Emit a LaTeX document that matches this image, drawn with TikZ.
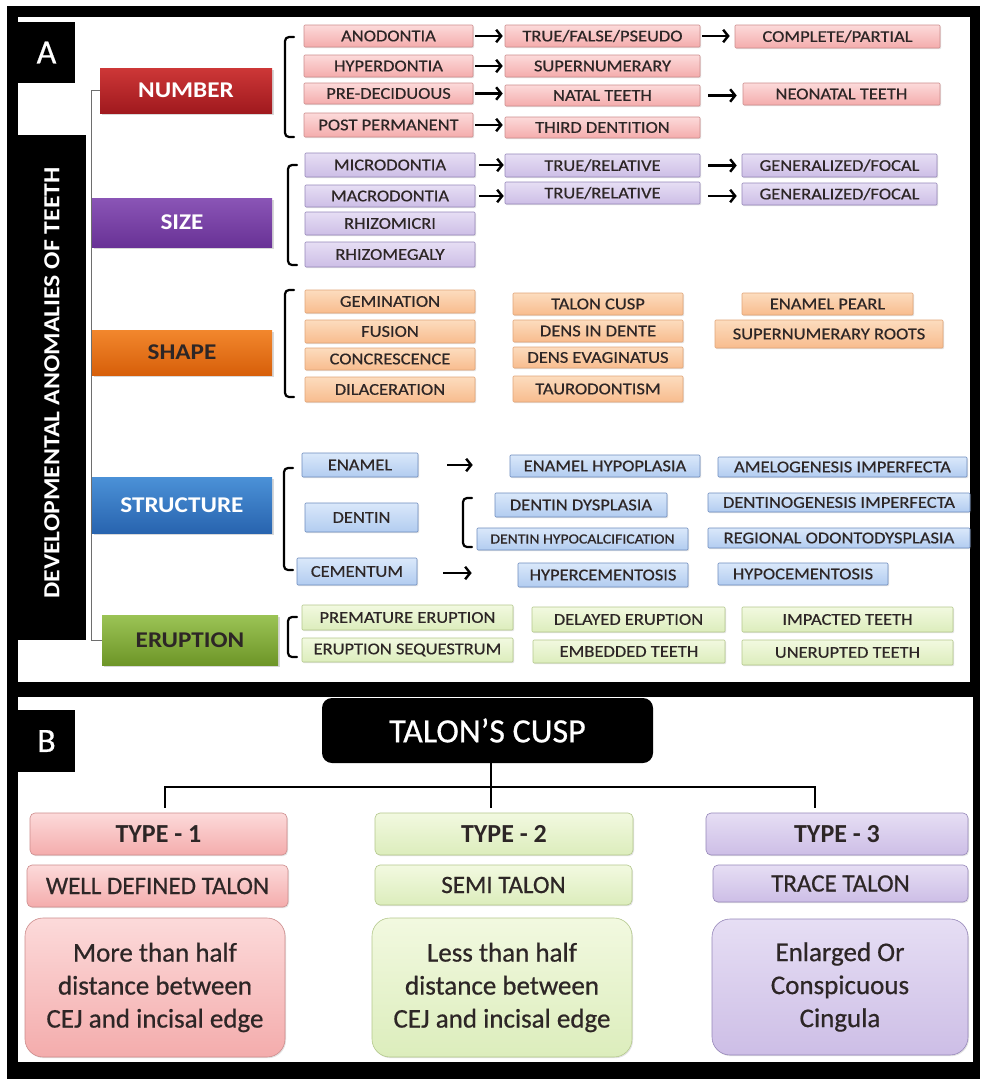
\documentclass[tikz,border=0pt]{standalone}
\usepackage{fontspec}
\setmainfont{Carlito}
\newfontfamily\sfont[FakeStretch=1.12,FakeBold=0.5]{Carlito}
\newfontfamily\catfont[FakeStretch=1.12]{Carlito}
\newfontfamily\bigfont[FakeBold=0.6]{Carlito}
\usetikzlibrary{arrows.meta,shadows}
% category colours
\definecolor{redT}{RGB}{205,55,55}\definecolor{redB}{RGB}{160,25,30}
\definecolor{purT}{RGB}{138,85,182}\definecolor{purB}{RGB}{105,50,150}
\definecolor{oraT}{RGB}{242,135,45}\definecolor{oraB}{RGB}{215,95,10}
\definecolor{bluT}{RGB}{75,145,215}\definecolor{bluB}{RGB}{40,100,175}
\definecolor{greT}{RGB}{155,195,85}\definecolor{greB}{RGB}{110,150,40}
% light colours
\definecolor{pinkT}{RGB}{252,218,218}\definecolor{pinkB}{RGB}{244,172,172}\definecolor{pinkD}{RGB}{205,140,140}
\definecolor{lavT}{RGB}{230,222,244}\definecolor{lavB}{RGB}{205,190,230}\definecolor{lavD}{RGB}{150,135,185}
\definecolor{lorT}{RGB}{252,220,190}\definecolor{lorB}{RGB}{248,188,142}\definecolor{lorD}{RGB}{225,165,120}
\definecolor{lblT}{RGB}{218,232,250}\definecolor{lblB}{RGB}{178,204,240}\definecolor{lblD}{RGB}{110,140,190}
\definecolor{lgrT}{RGB}{242,249,224}\definecolor{lgrB}{RGB}{220,237,188}\definecolor{lgrD}{RGB}{180,200,140}
\definecolor{txt}{RGB}{45,38,38}
\definecolor{treeline}{RGB}{110,110,110}
\tikzset{
  sbox/.style={rectangle, rounded corners=1pt, line width=0.6pt, draw=#1D,
    top color=#1T, bottom color=#1B, inner sep=0pt, text=txt,
    font=\sfont\fontsize{16.5}{18}\selectfont,
    drop shadow={opacity=0.22, shadow xshift=1pt, shadow yshift=-1.2pt}},
  cat/.style={rectangle, inner sep=0pt, top color=#1T, bottom color=#1B,
    font=\catfont\bfseries\fontsize{22.5}{24}\selectfont,
    drop shadow={opacity=0.3, shadow xshift=1.5pt, shadow yshift=-1.5pt}},
  tbox/.style={sbox=#1, rounded corners=5pt, font=\bfseries\fontsize{26}{28}\selectfont},
  wbox/.style={sbox=#1, rounded corners=5pt, font=\bigfont\fontsize{25}{27}\selectfont},
  dbox/.style={sbox=#1, rounded corners=18pt, align=center,
    font=\bigfont\fontsize{27}{33}\selectfont},
  brace/.style={line width=2.2pt, line cap=round, rounded corners=4pt, black},
  arr/.style={line width=2.4pt, -{Straight Barb[length=5pt,width=12.5pt]}},
  tree/.style={line width=0.9pt, treeline},
  bline/.style={line width=2.2pt, black},
  blk/.style={rectangle, fill=black, inner sep=0pt, text=white}
}
\newcommand\bx[7]{\node[#6, minimum width={(#4-#2)*1pt}, minimum height={(#5-#3)*1pt}] (#1) at ({(#2+#4)/2},{(#3+#5)/2}) {#7};}
\newcommand\brk[4]{\draw[brace] ({#1+9},#2) -- (#1,#2) -- (#1,#3) -- ({#1+9},#3);}
\begin{document}
\begin{tikzpicture}[x=1pt,y=-1pt]
\useasboundingbox (0,0) rectangle (982,1079);
\fill[white] (0,0) rectangle (982,1079);
\fill[black] (7,6) rectangle (980,1079);
\fill[white] (18,17) rectangle (970,682);
\fill[white] (18,697) rectangle (973,1062);
% panel labels
\bx{labA}{18}{22}{75}{83}{blk, font=\bigfont\fontsize{34}{36}\selectfont}{A}
\bx{col}{18}{135}{86}{640}{blk}{}
\node[rotate=90, text=white, font=\catfont\bfseries\fontsize{23}{25}\selectfont] (title) at (52,383) {DEVELOPMENTAL ANOMALIES OF TEETH};
% categories
\bx{num}{100}{68}{272}{113}{cat=red, text=white}{NUMBER}
\bx{size}{92}{198}{272}{247}{cat=pur, text=white}{SIZE}
\bx{shape}{92}{330}{272}{375}{cat=ora, text=txt}{SHAPE}
\bx{struct}{92}{477}{272}{533}{cat=blu, text=white}{STRUCTURE}
\bx{erup}{102}{615}{278}{665}{cat=gre, text=txt}{ERUPTION}
\draw[tree] (num.west) -- ++(-8pt,0) |- (erup.west);
% NUMBER
\bx{anod}{304}{25}{473}{47}{sbox=pink}{ANODONTIA}
\bx{hyper}{304}{55}{473}{77}{sbox=pink}{HYPERDONTIA}
\bx{prede}{304}{83}{473}{104}{sbox=pink}{PRE-DECIDUOUS}
\bx{postp}{304}{113}{473}{137}{sbox=pink}{POST PERMANENT}
\bx{tfp}{505}{25}{700}{47}{sbox=pink}{TRUE/FALSE/PSEUDO}
\bx{supn}{505}{55}{700}{77}{sbox=pink}{SUPERNUMERARY}
\bx{natal}{505}{85}{700}{106}{sbox=pink}{NATAL TEETH}
\bx{third}{505}{117}{700}{138}{sbox=pink}{THIRD DENTITION}
\bx{comp}{735}{25}{940}{48}{sbox=pink}{COMPLETE/PARTIAL}
\bx{neon}{743}{83}{940}{105}{sbox=pink}{NEONATAL TEETH}
\brk{285}{37}{137}
\draw[brace] (num.east) -- ++(13pt,0);
\draw[arr, shorten <=2pt, shorten >=2pt] (anod.east) -- (anod.east -| tfp.west);
\draw[arr, shorten <=2pt, shorten >=2pt] (hyper.east) -- (hyper.east -| supn.west);
\draw[arr, shorten <=2pt, shorten >=2pt] (prede.east) -- (prede.east -| natal.west);
\draw[arr, shorten <=2pt, shorten >=2pt] (postp.east) -- (postp.east -| third.west);
\draw[arr, shorten <=2pt, shorten >=5pt] (tfp.east) -- (tfp.east -| comp.west);
\draw[arr, shorten <=8pt, shorten >=6pt] (natal.east) -- (natal.east -| neon.west);
% SIZE
\bx{micro}{305}{153}{475}{177}{sbox=lav}{MICRODONTIA}
\bx{macro}{305}{185}{475}{207}{sbox=lav}{MACRODONTIA}
\bx{rmicri}{305}{212}{475}{235}{sbox=lav}{RHIZOMICRI}
\bx{rmega}{305}{242}{475}{267}{sbox=lav}{RHIZOMEGALY}
\bx{tr1}{505}{154}{700}{177}{sbox=lav}{TRUE/RELATIVE}
\bx{tr2}{505}{182}{700}{204}{sbox=lav}{TRUE/RELATIVE}
\bx{gen1}{742}{154}{937}{177}{sbox=lav}{GENERALIZED/FOCAL}
\bx{gen2}{742}{183}{937}{205}{sbox=lav}{GENERALIZED/FOCAL}
\brk{288}{165}{265}
\draw[brace] ([yshift=4pt]size.east) -- ++(16pt,0);
\draw[arr, shorten <=4pt, shorten >=1pt] (micro.east) -- (micro.east -| tr1.west);
\draw[arr, shorten <=4pt, shorten >=1pt] (macro.east) -- (macro.east -| tr2.west);
\draw[arr, shorten <=8pt, shorten >=5pt] (tr1.east) -- (tr1.east -| gen1.west);
\draw[arr, shorten <=8pt, shorten >=5pt] ([yshift=-3pt]tr2.east) -- ([yshift=-3pt]tr2.east -| gen2.west);
% SHAPE
\bx{gem}{305}{290}{475}{313}{sbox=lor}{GEMINATION}
\bx{fus}{305}{320}{475}{343}{sbox=lor}{FUSION}
\bx{conc}{305}{348}{475}{370}{sbox=lor}{CONCRESCENCE}
\bx{dilac}{305}{377}{475}{402}{sbox=lor}{DILACERATION}
\bx{talc}{513}{293}{683}{315}{sbox=lor}{TALON CUSP}
\bx{dind}{513}{320}{683}{342}{sbox=lor}{DENS IN DENTE}
\bx{devag}{513}{347}{683}{368}{sbox=lor}{DENS EVAGINATUS}
\bx{taur}{513}{376}{683}{402}{sbox=lor}{TAURODONTISM}
\bx{epearl}{742}{293}{913}{315}{sbox=lor}{ENAMEL PEARL}
\bx{sroots}{715}{320}{943}{348}{sbox=lor}{SUPERNUMERARY ROOTS}
\brk{285}{290}{397}
\draw[brace] ([yshift=4pt]shape.east) -- ++(13pt,0);
% STRUCTURE
\bx{enam}{302}{453}{418}{477}{sbox=lbl}{ENAMEL}
\bx{dent}{305}{503}{418}{532}{sbox=lbl}{DENTIN}
\bx{cem}{297}{558}{417}{585}{sbox=lbl}{CEMENTUM}
\bx{ehyp}{510}{455}{700}{477}{sbox=lbl}{ENAMEL HYPOPLASIA}
\bx{amelo}{718}{457}{967}{477}{sbox=lbl}{AMELOGENESIS IMPERFECTA}
\bx{ddysp}{495}{493}{667}{517}{sbox=lbl}{DENTIN DYSPLASIA}
\bx{dhypo}{477}{528}{688}{550}{sbox=lbl, font=\sfont\fontsize{14}{16}\selectfont}{DENTIN HYPOCALCIFICATION}
\bx{dgen}{708}{493}{970}{512}{sbox=lbl}{DENTINOGENESIS IMPERFECTA}
\bx{rodo}{708}{528}{970}{548}{sbox=lbl}{REGIONAL ODONTODYSPLASIA}
\bx{hyperc}{518}{563}{688}{587}{sbox=lbl}{HYPERCEMENTOSIS}
\bx{hypoc}{718}{563}{888}{585}{sbox=lbl}{HYPOCEMENTOSIS}
\brk{284}{468}{570}
\draw[brace] ([yshift=-13pt]struct.east) -- ++(12pt,0);
\brk{463}{498}{547}
\draw[brace] (463,521) -- (453,521);
\draw[arr, shorten <=29pt, shorten >=37pt] (enam.east) -- (enam.east -| ehyp.west);
\draw[arr, shorten <=26pt, shorten >=46pt] ([yshift=-1.5pt]cem.east) -- ([yshift=-1.5pt]cem.east -| hyperc.west);
% ERUPTION
\bx{prem}{302}{605}{513}{630}{sbox=lgr}{PREMATURE ERUPTION}
\bx{seq}{302}{638}{513}{662}{sbox=lgr}{ERUPTION SEQUESTRUM}
\bx{delay}{532}{607}{725}{632}{sbox=lgr}{DELAYED ERUPTION}
\bx{embed}{533}{640}{725}{663}{sbox=lgr}{EMBEDDED TEETH}
\bx{impact}{742}{607}{953}{632}{sbox=lgr}{IMPACTED TEETH}
\bx{unerupt}{742}{640}{953}{665}{sbox=lgr}{UNERUPTED TEETH}
\brk{288}{617}{657}
\draw[brace] ([yshift=2pt]erup.east) -- ++(10pt,0);
% PANEL B
\bx{labB}{18}{710}{75}{772}{blk, font=\bigfont\fontsize{34}{36}\selectfont}{B}
\bx{talon}{322}{698}{653}{763}{blk, rounded corners=10pt, font=\bigfont\fontsize{34}{36}\selectfont}{TALON’S CUSP}
\bx{t1}{30}{813}{287}{855}{tbox=pink}{TYPE - 1}
\bx{w1}{27}{865}{288}{907}{wbox=pink}{WELL DEFINED TALON}
\bx{d1}{25}{918}{285}{1057}{dbox=pink}{More than half\\distance between\\CEJ and incisal edge}
\bx{t2}{375}{813}{633}{855}{tbox=lgr}{TYPE - 2}
\bx{w2}{375}{865}{632}{905}{wbox=lgr}{SEMI TALON}
\bx{d2}{372}{918}{632}{1057}{dbox=lgr}{Less than half\\distance between\\CEJ and incisal edge}
\bx{t3}{706}{813}{968}{855}{tbox=lav}{TYPE - 3}
\bx{w3}{713}{865}{968}{902}{wbox=lav}{TRACE TALON}
\bx{d3}{712}{919}{968}{1055}{dbox=lav}{Enlarged Or\\Conspicuous\\Cingula}
\coordinate (bj) at (491,787);
\draw[bline] (talon.south -| bj) -- ([yshift=5pt]t2.north -| bj);
\draw[bline] ([xshift=6.5pt,yshift=5pt]t1.north) |- (bj) -| ([xshift=-22pt,yshift=5pt]t3.north);
\end{tikzpicture}
\end{document}
